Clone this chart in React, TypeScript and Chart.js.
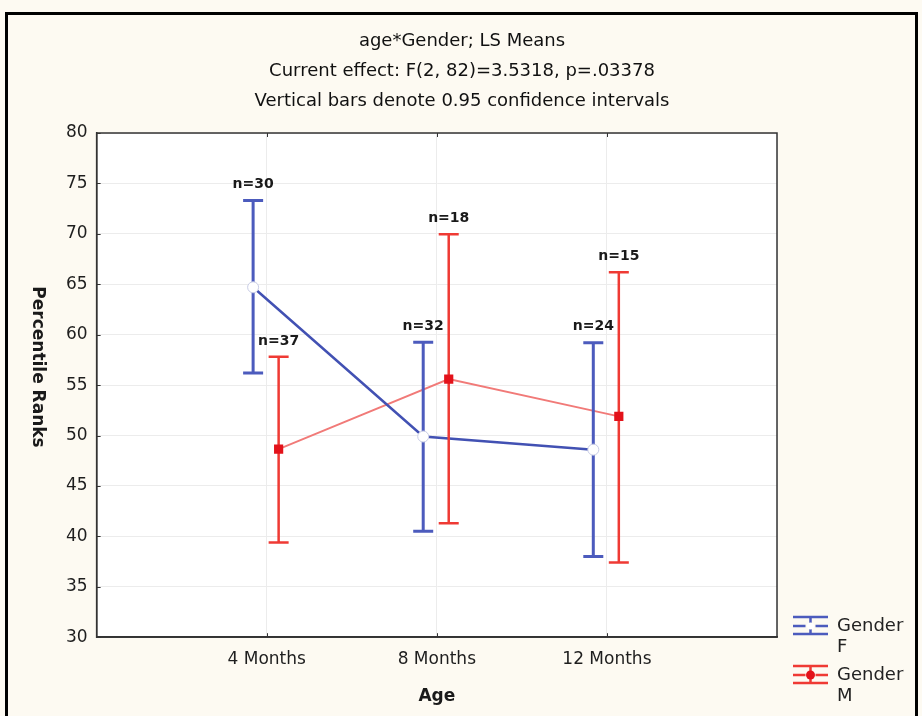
import React, { useEffect, useRef } from "react";
import { Chart, registerables } from "chart.js";

Chart.register(...registerables);

// ---- data ----
const categories = ["4 Months", "8 Months", "12 Months"];
const categoryPositions = [1, 2, 3];
const femaleMean = [64.7, 49.9, 48.6];
const femaleLower = [56.2, 40.5, 38.0];
const femaleUpper = [73.3, 59.25, 59.2];
const femaleN = [30, 32, 24];
const maleMean = [48.65, 55.6, 51.9];
const maleLower = [39.4, 41.3, 37.4];
const maleUpper = [57.8, 69.95, 66.2];
const maleN = [37, 18, 15];
const yMin = 30;
const yMax = 80;
const yStep = 5;
const titleLines = [
  "age*Gender; LS Means",
  "Current effect: F(2, 82)=3.5318, p=.03378",
  "Vertical bars denote 0.95 confidence intervals",
];
const xTitle = "Age";
const yTitle = "Percentile Ranks";
const legendLabels = [["Gender", "F"], ["Gender", "M"]];

// ---- style ----
const FONT = '"DejaVu Sans", "Liberation Sans", Arial, sans-serif';
const BLUE_BAR = "#4c5bbd";
const BLUE_LINE = "#4251b3";
const RED_BAR = "#ef3a34";
const RED_LINE = "#f17a78";
const RED_MARK = "#e3121a";
const F_OFFSET = -0.08;
const M_OFFSET = 0.07;

const series = [
  { mean: femaleMean, lower: femaleLower, upper: femaleUpper, n: femaleN, offset: F_OFFSET, color: BLUE_BAR, width: 3 },
  { mean: maleMean, lower: maleLower, upper: maleUpper, n: maleN, offset: M_OFFSET, color: RED_BAR, width: 2.5 },
];

const toPoints = (vals: number[], off: number) =>
  vals.map((v, i) => ({ x: categoryPositions[i] + off, y: v }));

const backgroundPlugin = {
  id: "bgPlugin",
  beforeDraw(chart: any) {
    const { ctx, width, height, chartArea: a } = chart;
    ctx.save();
    ctx.fillStyle = "#fdfaf2";
    ctx.fillRect(0, 0, width, height);
    ctx.strokeStyle = "#000";
    ctx.lineWidth = 3;
    ctx.strokeRect(6.5, 13.5, 910, 720);
    ctx.fillStyle = "#ffffff";
    ctx.fillRect(a.left, a.top, a.right - a.left, a.bottom - a.top);
    ctx.fillStyle = "#111";
    ctx.font = `18px ${FONT}`;
    ctx.textAlign = "center";
    ctx.textBaseline = "middle";
    titleLines.forEach((t, i) => ctx.fillText(t, 462, 41 + i * 30));
    ctx.restore();
  },
};

const errorBarPlugin = {
  id: "errorBarPlugin",
  beforeDatasetDraw(chart: any, args: any) {
    if (args.index !== 1) return;
    const { ctx } = chart;
    const xs = chart.scales.x;
    const ys = chart.scales.y;
    ctx.save();
    series.forEach((s) => {
      ctx.strokeStyle = s.color;
      ctx.lineWidth = s.width;
      ctx.lineCap = "butt";
      s.mean.forEach((_, i) => {
        const x = xs.getPixelForValue(categoryPositions[i] + s.offset);
        const yt = ys.getPixelForValue(s.upper[i]);
        const yb = ys.getPixelForValue(s.lower[i]);
        ctx.beginPath();
        ctx.moveTo(x, yt);
        ctx.lineTo(x, yb);
        ctx.moveTo(x - 10, yt);
        ctx.lineTo(x + 10, yt);
        ctx.moveTo(x - 10, yb);
        ctx.lineTo(x + 10, yb);
        ctx.stroke();
      });
    });
    ctx.restore();
  },
  afterDraw(chart: any) {
    const { ctx, chartArea: a } = chart;
    const xs = chart.scales.x;
    const ys = chart.scales.y;
    ctx.save();
    // plot frame
    ctx.strokeStyle = "#333";
    ctx.lineWidth = 1.5;
    ctx.strokeRect(a.left, a.top, a.right - a.left, a.bottom - a.top);
    // inward ticks
    ctx.lineWidth = 1;
    ctx.beginPath();
    ys.ticks.forEach((t: any) => {
      const y = Math.round(ys.getPixelForValue(t.value)) + 0.5;
      ctx.moveTo(a.left, y);
      ctx.lineTo(a.left + 4, y);
    });
    categoryPositions.forEach((c) => {
      const x = Math.round(xs.getPixelForValue(c)) + 0.5;
      ctx.moveTo(x, a.bottom);
      ctx.lineTo(x, a.bottom - 4);
      ctx.moveTo(x, a.top);
      ctx.lineTo(x, a.top + 4);
    });
    ctx.stroke();

    // n labels
    ctx.fillStyle = "#1a1a1a";
    ctx.font = `bold 14px ${FONT}`;
    ctx.textAlign = "center";
    ctx.textBaseline = "middle";
    series.forEach((s) => {
      s.n.forEach((n, i) => {
        const x = xs.getPixelForValue(categoryPositions[i] + s.offset);
        const y = ys.getPixelForValue(s.upper[i]) - 16;
        ctx.fillText(`n=${n}`, x, y);
      });
    });

    // y title (rotated clockwise)
    ctx.save();
    ctx.translate(37, 367);
    ctx.rotate(Math.PI / 2);
    ctx.font = `bold 17px ${FONT}`;
    ctx.fillStyle = "#1a1a1a";
    ctx.fillText(yTitle, 0, 0);
    ctx.restore();

    // legend
    const lx = a.right + 16;
    const lw = 35;
    const cx = lx + lw / 2;
    const rows = [
      { y: 626, bar: BLUE_BAR, line: BLUE_LINE, marker: "circle" },
      { y: 675, bar: RED_BAR, line: RED_LINE, marker: "square" },
    ];
    rows.forEach((r, i) => {
      ctx.strokeStyle = r.bar;
      ctx.lineWidth = 2.5;
      ctx.beginPath();
      ctx.moveTo(lx, r.y - 9);
      ctx.lineTo(lx + lw, r.y - 9);
      ctx.moveTo(lx, r.y + 8);
      ctx.lineTo(lx + lw, r.y + 8);
      ctx.moveTo(cx, r.y - 9);
      ctx.lineTo(cx, r.y + 8);
      ctx.stroke();
      ctx.beginPath();
      ctx.moveTo(lx, r.y);
      ctx.lineTo(cx - 5, r.y);
      ctx.moveTo(cx + 5, r.y);
      ctx.lineTo(lx + lw, r.y);
      ctx.stroke();
      if (r.marker === "circle") {
        ctx.fillStyle = "#fff";
        ctx.beginPath();
        ctx.arc(cx, r.y, 3.5, 0, Math.PI * 2);
        ctx.fill();
      } else {
        ctx.fillStyle = RED_MARK;
        ctx.beginPath();
        ctx.arc(cx, r.y, 4.5, 0, Math.PI * 2);
        ctx.fill();
      }
      ctx.fillStyle = "#222";
      ctx.font = `18px ${FONT}`;
      ctx.textAlign = "left";
      ctx.fillText(legendLabels[i][0], lx + 44, r.y);
      ctx.fillText(legendLabels[i][1], lx + 44, r.y + 21);
    });
    ctx.restore();
  },
};

export default function App() {
  const ref = useRef<HTMLCanvasElement | null>(null);

  useEffect(() => {
    if (!ref.current) return;
    const chart = new Chart(ref.current, {
      type: "scatter",
      data: {
        datasets: [
          {
            label: "F markers",
            data: toPoints(femaleMean, F_OFFSET),
            showLine: false,
            pointStyle: "circle",
            pointRadius: 5.5,
            pointBackgroundColor: "#ffffff",
            pointBorderColor: "#c9cde6",
            pointBorderWidth: 1,
            order: 1,
          },
          {
            label: "M markers",
            data: toPoints(maleMean, M_OFFSET),
            showLine: false,
            pointStyle: "rect",
            pointRadius: 6.5,
            pointBackgroundColor: RED_MARK,
            pointBorderColor: RED_MARK,
            pointBorderWidth: 0,
            order: 1,
          },
          {
            label: "Gender F",
            data: toPoints(femaleMean, F_OFFSET),
            showLine: true,
            borderColor: BLUE_LINE,
            borderWidth: 2.5,
            pointRadius: 0,
            order: 2,
          },
          {
            label: "Gender M",
            data: toPoints(maleMean, M_OFFSET),
            showLine: true,
            borderColor: RED_LINE,
            borderWidth: 1.8,
            pointRadius: 0,
            order: 2,
          },
        ],
      },
      options: {
        animation: false,
        responsive: false,
        layout: { padding: { left: 57, right: 145, top: 133, bottom: 9 } },
        plugins: {
          legend: { display: false },
          title: { display: false },
          tooltip: { enabled: false },
        },
        scales: {
          x: {
            type: "linear",
            min: 0,
            max: 4,
            ticks: {
              stepSize: 1,
              autoSkip: false,
              maxRotation: 0,
              padding: 12,
              color: "#1e1e1e",
              font: { family: FONT, size: 17 },
              callback: (v: any) => categories[categoryPositions.indexOf(Number(v))] ?? "",
            },
            grid: { color: "#ececec", drawTicks: false },
            border: { display: true, color: "#333", width: 1.5 },
            title: {
              display: true,
              text: xTitle,
              color: "#1a1a1a",
              font: { family: FONT, size: 17, weight: "bold" },
              padding: { top: 5, bottom: 0 },
            },
          },
          y: {
            min: yMin,
            max: yMax,
            ticks: {
              stepSize: yStep,
              padding: 9,
              color: "#1e1e1e",
              font: { family: FONT, size: 17 },
            },
            grid: { color: "#ececec", drawTicks: false },
            border: { display: true, color: "#333", width: 1.5 },
          },
        },
      },
      plugins: [backgroundPlugin, errorBarPlugin],
    } as any);
    return () => chart.destroy();
  }, []);

  return (
    <div style={{ position: "fixed", left: 0, top: 0, width: 922, height: 716 }}>
      <canvas ref={ref} width={922} height={716} />
    </div>
  );
}
